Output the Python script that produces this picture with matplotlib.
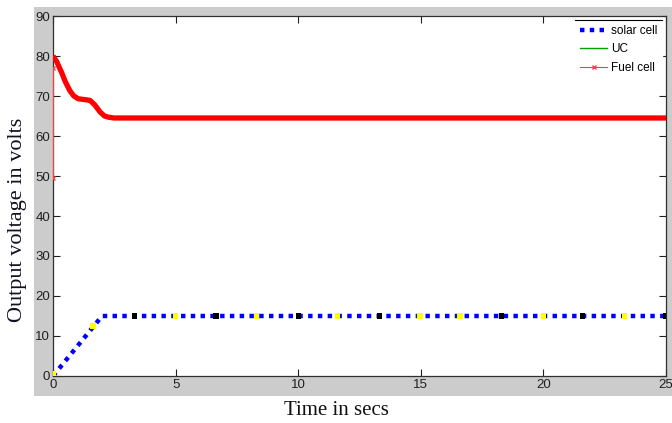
import matplotlib.pyplot as plt
from matplotlib.patches import Rectangle
from matplotlib.lines import Line2D

# fuel cell output (thick red curve)
fuel_t = [0, 0.15, 0.35, 0.5, 0.69, 0.85, 1.03, 1.3, 1.51, 1.7, 1.92, 2.1, 2.26, 2.5, 5, 10, 15, 20, 25]
fuel_v = [80, 78.6, 75.9, 73.6, 71.3, 70.0, 69.3, 69.1, 68.9, 67.8, 66.0, 65.0, 64.7, 64.5, 64.5, 64.5, 64.5, 64.5, 64.5]
# thin start-up trace at t = 0
fuel_start_t = [0, 0]
fuel_start_v = [49.5, 77]

# solar cell output
solar_t = [0, 2.0, 25]
solar_v = [0, 15, 15]

# UC samples showing through the dotted line
uc_t = [0, 1.63, 3.34, 4.98, 6.65, 8.3, 10.0, 11.6, 13.3, 14.97, 16.6, 18.3, 20.0, 21.6, 23.3, 25.0]
uc_v = [0.5, 12.5, 15, 15, 15, 15, 15, 15, 15, 15, 15, 15, 15, 15, 15, 15]
uc_c = ['yellow', 'yellow', 'black', 'yellow', 'black', 'yellow', 'black', 'yellow',
        'black', 'yellow', 'yellow', 'black', 'yellow', 'black', 'yellow', 'black']

xticks = [0, 5, 10, 15, 20, 25]
yticks = [0, 10, 20, 30, 40, 50, 60, 70, 80, 90]

W, H = 672, 423
fig = plt.figure(figsize=(W / 100, H / 100), dpi=100)
fig.patch.set_facecolor('white')
fig.patches.append(Rectangle((34 / W, 1 - 396 / H), 1, (396 - 7) / H,
                             transform=fig.transFigure, facecolor='#cccccc',
                             edgecolor='none', zorder=-5))

ax = fig.add_axes([53 / W, 1 - 376 / H, (666 - 53) / W, (376 - 16) / H])
ax.set_facecolor('white')

ax.plot(solar_t, solar_v, color='#0000ff', lw=3.2, linestyle=(0, (1, 1.2)),
        dash_capstyle='butt', label='solar cell', zorder=3)
ax.plot([], [], color='#00a000', lw=1, label='UC')
ax.scatter(uc_t, uc_v, c=uc_c, marker='s', s=14, zorder=4, linewidths=0)
ax.plot(fuel_start_t, fuel_start_v, color='#ff4040', lw=0.8, marker='x', ms=3,
        label='Fuel cell', zorder=3)
ax.plot(fuel_t, fuel_v, color='#ff0000', lw=3.8, zorder=3, solid_capstyle='butt')

ax.set_xlim(0, 25)
ax.set_ylim(0, 90)
ax.set_xticks(xticks)
ax.set_yticks(yticks)
ax.tick_params(direction='in', length=5, width=0.8, top=True, right=True,
               labelsize=9.5, pad=2, colors='#202020')
for lab in ax.get_xticklabels() + ax.get_yticklabels():
    lab.set_family('Liberation Sans')
for s in ax.spines.values():
    s.set_linewidth(0.9)
    s.set_color('#303030')

fig.text(18 / W, 1 - 220 / H, 'Output voltage in volts', rotation=90,
         ha='center', va='center', family='Liberation Serif', fontsize=16, color='#101020')
fig.text(336 / W, 1 - 410 / H, 'Time in secs', ha='center', va='center',
         family='Liberation Serif', fontsize=15, color='#101010')

leg = ax.legend(loc='upper right', frameon=True, fancybox=False,
                handlelength=2.3, handletextpad=0.3, borderaxespad=0.3,
                labelspacing=0.55, borderpad=0.45,
                prop={'family': 'Liberation Sans', 'size': 8.5})
leg.get_frame().set_edgecolor('white')
leg.get_frame().set_alpha(1)

fig.canvas.draw()
bb = leg.get_window_extent()
fig.add_artist(Line2D([bb.x0 / W, bb.x1 / W], [bb.y1 / H, bb.y1 / H],
                      transform=fig.transFigure, color='black', lw=0.8))

fig.savefig('out.png', dpi=100)
